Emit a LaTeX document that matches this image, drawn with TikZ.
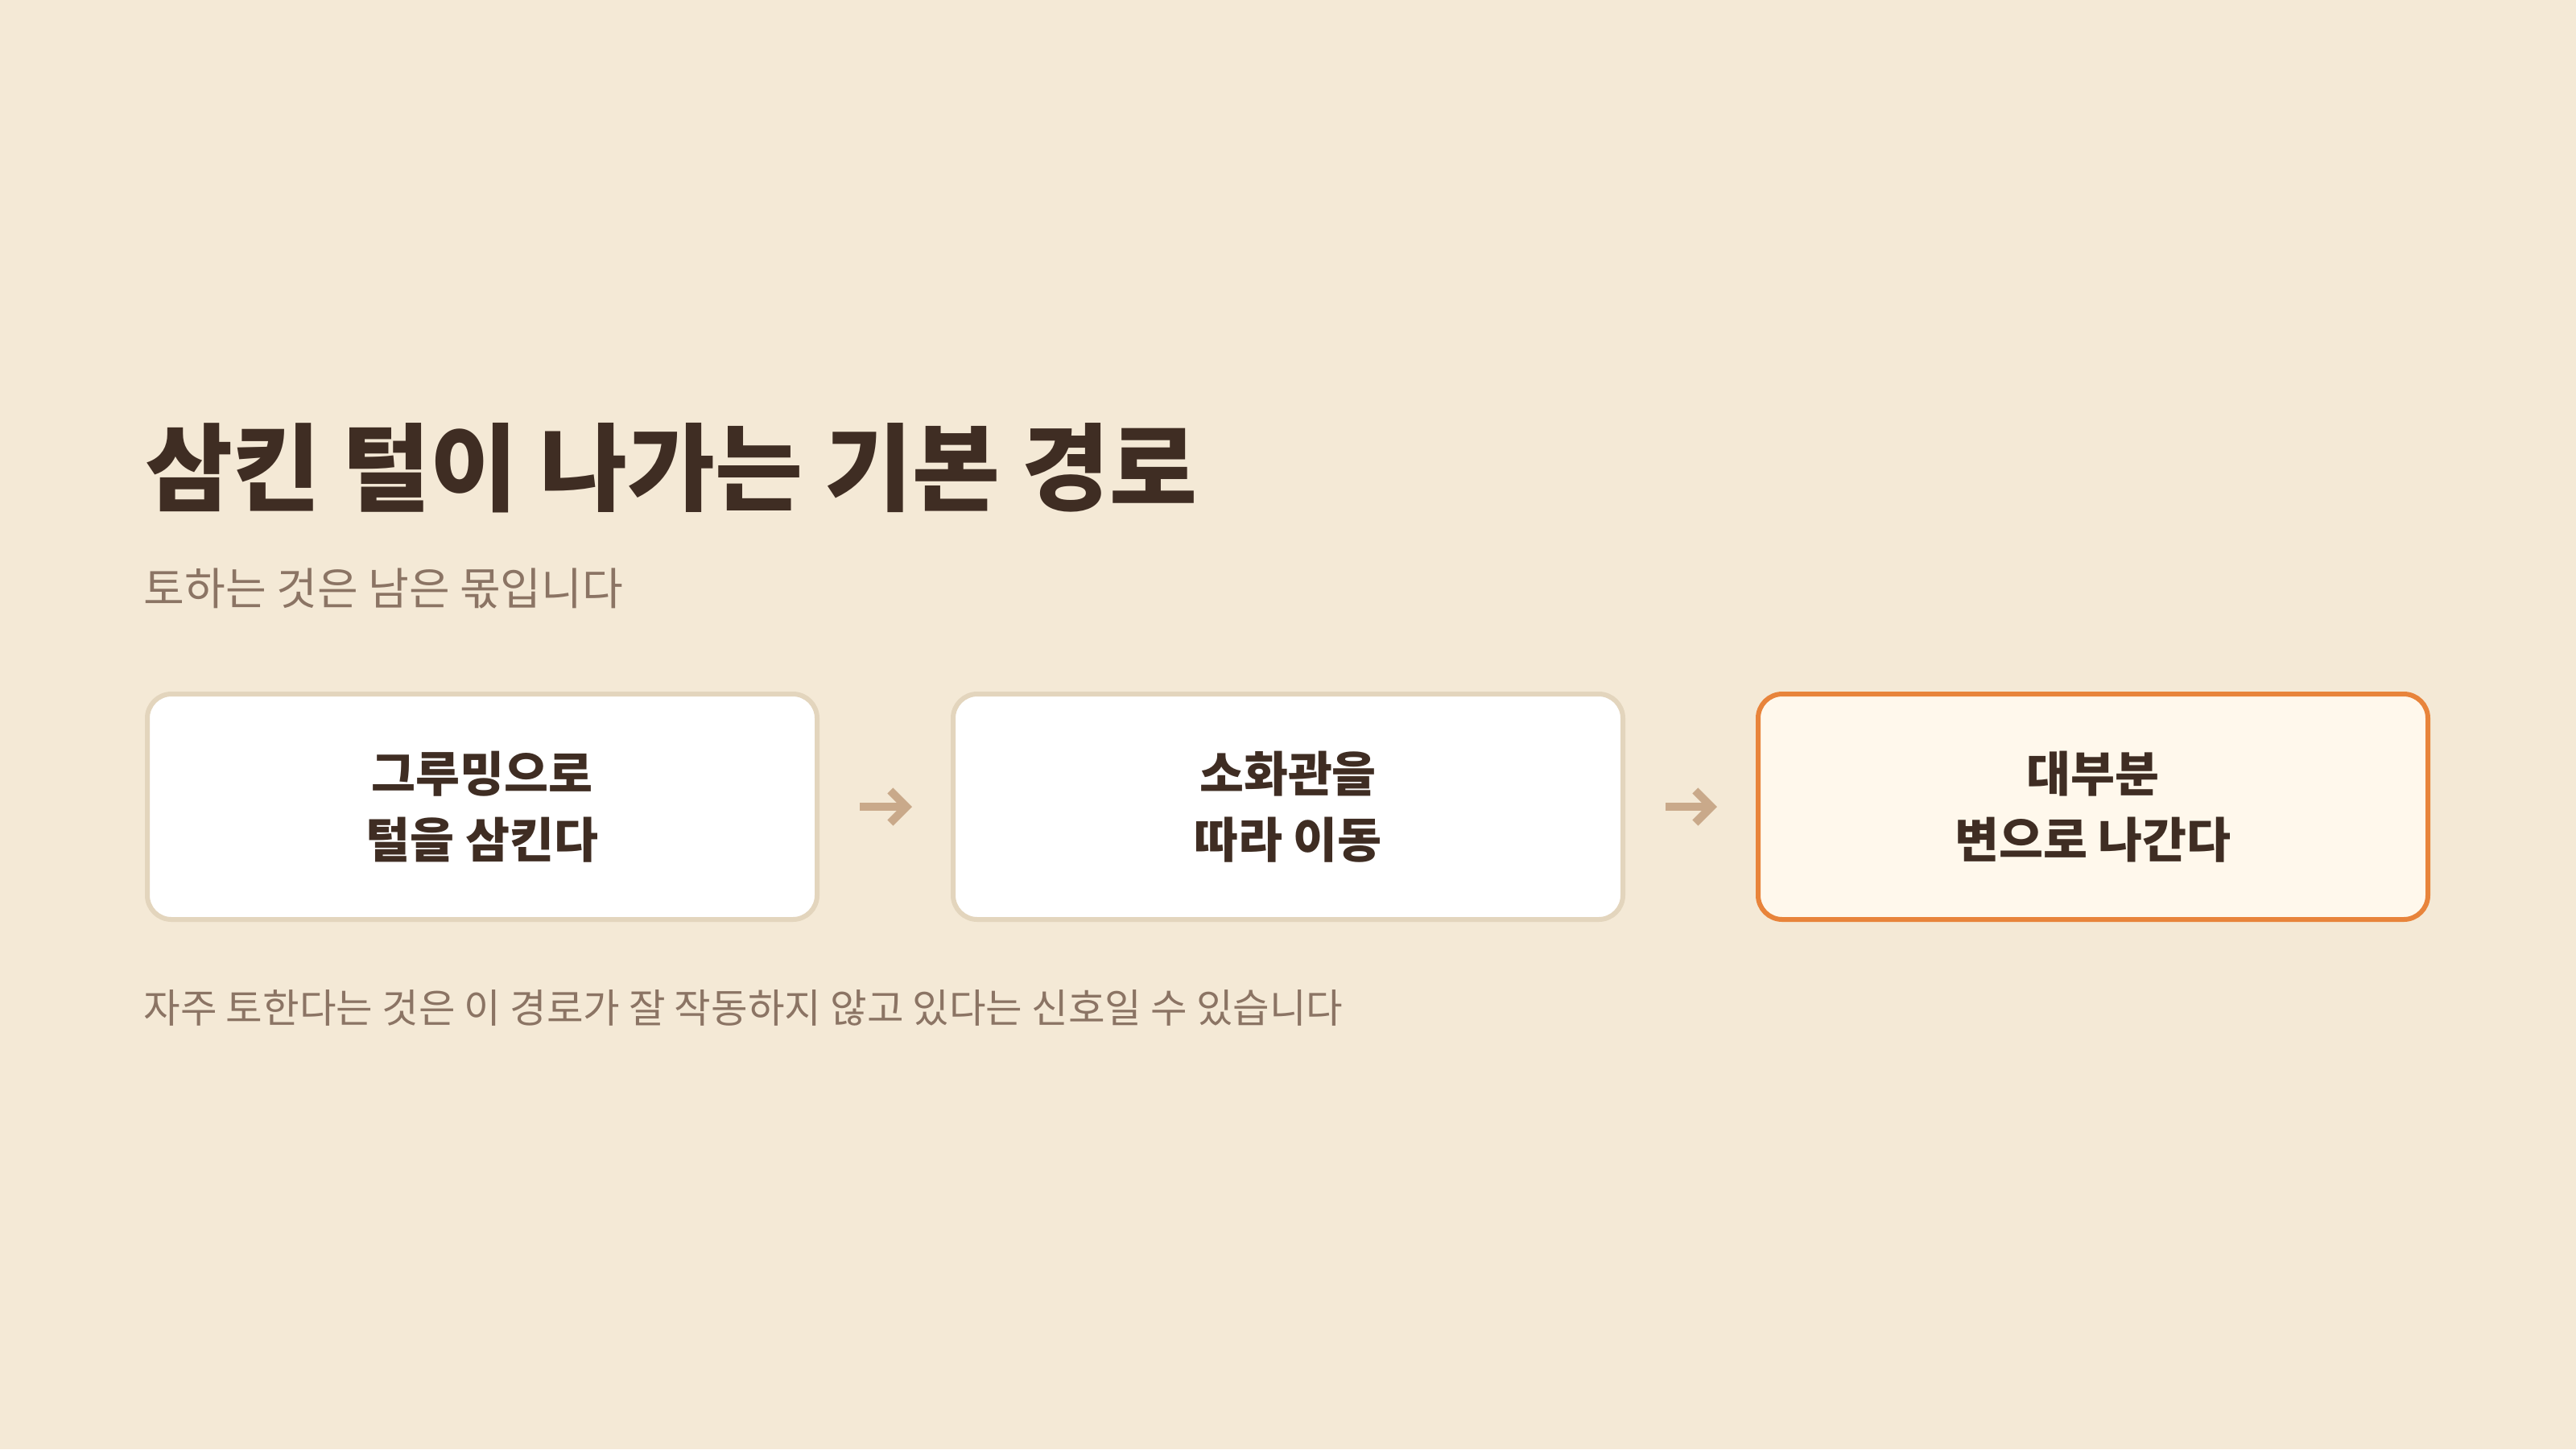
\documentclass[tikz,border=0pt]{standalone}
\usepackage{fontspec}
\setmainfont{Noto Sans CJK KR}
\usetikzlibrary{arrows.meta}

\definecolor{paper}{HTML}{F4E9D6}
\definecolor{ink}{HTML}{3F2D23}
\definecolor{muted}{HTML}{8B7464}
\definecolor{edge}{HTML}{E3D5BD}
\definecolor{hot}{HTML}{E8843B}
\definecolor{hotfill}{HTML}{FFF8EC}
\definecolor{flowcol}{HTML}{C9A98A}

\tikzset{
  stage/.style={draw=edge, fill=white, line width=0.06cm, rounded corners=0.3cm,
    minimum width=8.32cm, minimum height=2.8cm, align=center, text=ink,
    font=\fontsize{17pt}{23.3pt}\selectfont\bfseries},
  laststage/.style={stage, draw=hot, fill=hotfill},
  flow/.style={draw=flowcol, line width=0.1cm,
    -{Straight Barb[length=0.2cm, width=0.4cm]}, shorten <=0.5cm, shorten >=0.48cm}
}

\begin{document}
\begin{tikzpicture}
\useasboundingbox (0,0) rectangle (32,-18);
\fill[paper] (0,0) rectangle (32,-18);

% heading
\node (title) at (1.8,-5.81) [anchor=west, inner sep=0, text=ink]
  {\fontsize{33.7pt}{40pt}\selectfont\bfseries 삼킨 털이 나가는 기본 경로};
\node (sub) at (1.78,-7.31) [anchor=west, inner sep=0, text=muted]
  {\fontsize{15.7pt}{19pt}\selectfont 토하는 것은 남은 몫입니다};

% the three stages
\node (s1) at (5.99,-10.02) [stage] {그루밍으로\\털을 삼킨다};
\node (s2) at (16.00,-10.02) [stage] {소화관을\\따라 이동};
\node (s3) at (26.00,-10.02) [laststage] {대부분\\변으로 나간다};

\draw[flow] (s1) -- (s2);
\draw[flow] (s2) -- (s3);

\node (note) at (1.78,-12.52) [anchor=west, inner sep=0, text=muted]
  {\fontsize{14.1pt}{17pt}\selectfont 자주 토한다는 것은 이 경로가 잘 작동하지 않고 있다는 신호일 수 있습니다};
\end{tikzpicture}
\end{document}
